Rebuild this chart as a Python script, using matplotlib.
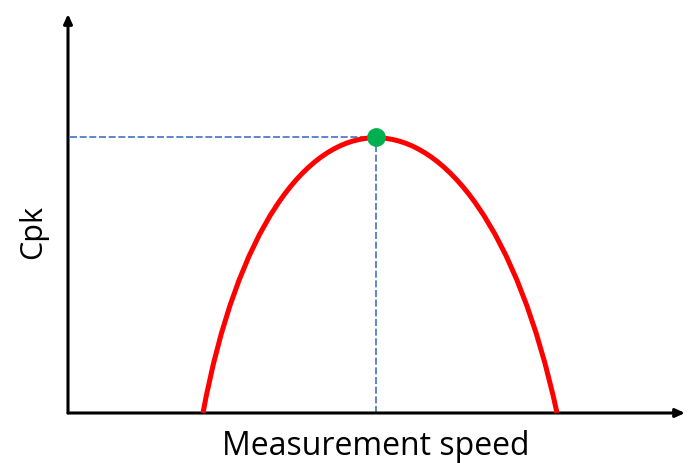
import matplotlib
matplotlib.use("Agg")
import matplotlib.pyplot as plt
from matplotlib.path import Path
from matplotlib.patches import PathPatch

# Curve (cubic Bezier: start, two control points, end) in (speed, Cpk) units
curve_speed = [135, 203, 410, 489]
curve_cpk = [0, 367, 367, 0]
opt_speed = 308
opt_cpk = 276
x_label = "Measurement speed"
y_label = "Cpk"

fig = plt.figure(figsize=(6.99, 4.64), dpi=100)
ax = fig.add_axes([68/699, 50/464, 617/699, 399/464])
ax.set_xlim(0, 617)
ax.set_ylim(0, 399)
for s in ax.spines.values():
    s.set_visible(False)
ax.set_xticks([])
ax.set_yticks([])

# axes arrows
arrow = dict(arrowstyle="-|>,head_length=0.55,head_width=0.25", color="black",
             lw=2.2, shrinkA=0, shrinkB=0)
ax.annotate("", xy=(617, 0), xytext=(0, 0), arrowprops=arrow, annotation_clip=False)
ax.annotate("", xy=(0, 399), xytext=(0, 0), arrowprops=arrow, annotation_clip=False)

# dashed guide lines
ax.plot([2, opt_speed], [opt_cpk, opt_cpk], color="#4472C4", lw=1.2,
        dashes=(4.2, 1.6), zorder=2)
ax.plot([opt_speed, opt_speed], [0, opt_cpk], color="#4472C4", lw=1.2,
        dashes=(4.2, 1.6), zorder=2)

# curve
path = Path(list(zip(curve_speed, curve_cpk)),
            [Path.MOVETO, Path.CURVE4, Path.CURVE4, Path.CURVE4])
ax.add_patch(PathPatch(path, facecolor="none", edgecolor="#FF0000", lw=3.6,
                       capstyle="butt", zorder=3, clip_on=False))

# optimum point
ax.plot([opt_speed], [opt_cpk], "o", color="#00B050", markersize=13.5,
        markeredgewidth=0, zorder=4)

fig.text(376/699, 1 - 455/464, x_label, ha="center", va="baseline",
         fontsize=23, family="Open Sans")
fig.text(33/699, 1 - 232/464, y_label, ha="center", va="center",
         fontsize=22, family="Open Sans", rotation=90)

fig.savefig("out.png", dpi=100)
